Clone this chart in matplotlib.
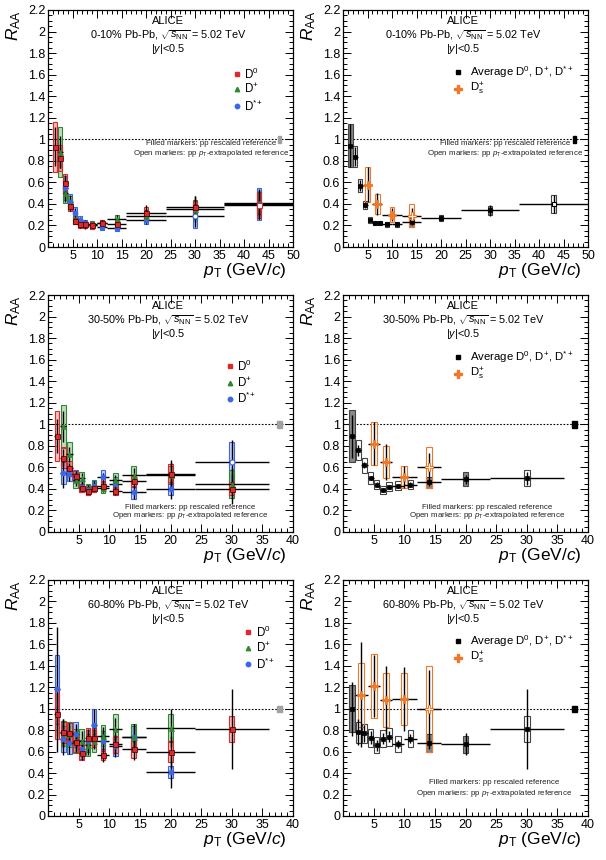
import matplotlib
matplotlib.use('Agg')
import matplotlib.pyplot as plt
from matplotlib.patches import Rectangle
from matplotlib.ticker import MultipleLocator, FuncFormatter
import numpy as np

plt.rcParams['font.family'] = ['Liberation Sans', 'DejaVu Sans']
plt.rcParams['mathtext.fontset'] = 'custom'
plt.rcParams['mathtext.rm'] = 'Liberation Sans'
plt.rcParams['mathtext.it'] = 'Liberation Sans:italic'
plt.rcParams['mathtext.bf'] = 'Liberation Sans:bold'

# ---------------- data : 0-10% ----------------
edges_d0_010 = [1, 2, 3, 4, 5, 6, 7, 8, 10, 12, 16, 24, 36, 50]
raa_d0_010 = [0.93, 0.83, 0.59, 0.38, 0.24, 0.21, 0.21, 0.20, 0.22, 0.21, 0.32, 0.37, 0.39]
stat_d0_010 = [0.18, 0.10, 0.08, 0.05, 0.03, 0.03, 0.04, 0.02, 0.03, 0.03, 0.07, 0.10, 0.13]
sys_d0_010 = [0.23, 0.12, 0.09, 0.05, 0.03, 0.03, 0.03, 0.03, 0.03, 0.03, 0.05, 0.06, 0.12]
open_d0_010 = [43]

edges_dp_010 = [2, 3, 4, 5, 6, 7, 8, 10, 12, 16, 24, 36, 50]
raa_dp_010 = [0.88, 0.50, 0.40, 0.25, 0.22, 0.21, 0.21, 0.22, 0.26, 0.29, 0.35, 0.41]
stat_dp_010 = [0.15, 0.08, 0.05, 0.03, 0.03, 0.03, 0.02, 0.03, 0.04, 0.06, 0.12, 0.12]
sys_dp_010 = [0.23, 0.09, 0.07, 0.04, 0.03, 0.03, 0.03, 0.03, 0.04, 0.05, 0.09, 0.10]
open_dp_010 = []

edges_ds_010 = [3, 4, 5, 6, 7, 8, 10, 12, 16, 24, 36, 50]
raa_dst_010 = [0.55, 0.42, 0.32, 0.25, 0.22, 0.20, 0.19, 0.18, 0.25, 0.29, 0.40]
stat_dst_010 = [0.10, 0.06, 0.04, 0.03, 0.03, 0.02, 0.02, 0.02, 0.04, 0.10, 0.14]
sys_dst_010 = [0.11, 0.07, 0.05, 0.04, 0.03, 0.03, 0.03, 0.03, 0.04, 0.11, 0.15]
open_dst_010 = [30]

edges_avg_010 = [1, 2, 3, 4, 5, 6, 7, 8, 10, 12, 16, 24, 36, 50]
raa_avg_010 = [0.94, 0.84, 0.57, 0.39, 0.25, 0.22, 0.22, 0.21, 0.21, 0.23, 0.27, 0.34, 0.40]
stat_avg_010 = [0.20, 0.09, 0.05, 0.03, 0.02, 0.02, 0.02, 0.015, 0.02, 0.03, 0.03, 0.05, 0.08]
sys_avg_010 = [0.20, 0.10, 0.06, 0.04, 0.03, 0.02, 0.02, 0.02, 0.02, 0.04, 0.03, 0.04, 0.08]
fill_avg_010 = [1, 0, 0, 0, 0, 0, 0, 0, 0, 1, 1, 1, 0]
open_avg_010 = [43]

edges_dsp_010 = [4, 6, 8, 12, 16]
raa_dsp_010 = [0.58, 0.40, 0.30, 0.29]
stat_dsp_010 = [0.16, 0.10, 0.06, 0.07]
sys_dsp_010 = [0.16, 0.09, 0.07, 0.105]
open_dsp_010 = [14]

# ---------------- data : 30-50% ----------------
edges_d0_3050 = [1, 2, 3, 4, 5, 6, 7, 8, 10, 12, 16, 24, 36]
raa_d0_3050 = [0.89, 0.69, 0.59, 0.52, 0.41, 0.38, 0.41, 0.43, 0.38, 0.47, 0.54, 0.40]
stat_d0_3050 = [0.16, 0.08, 0.05, 0.04, 0.03, 0.03, 0.03, 0.04, 0.04, 0.06, 0.13, 0.14]
sys_d0_3050 = [0.23, 0.10, 0.07, 0.05, 0.04, 0.04, 0.04, 0.04, 0.04, 0.05, 0.09, 0.06]
open_d0_3050 = []

edges_dp_3050 = [2, 3, 4, 5, 6, 7, 8, 10, 12, 16, 24, 36]
raa_dp_3050 = [0.98, 0.72, 0.48, 0.50, 0.40, 0.42, 0.41, 0.48, 0.53, 0.53, 0.45]
stat_dp_3050 = [0.14, 0.07, 0.05, 0.05, 0.04, 0.04, 0.04, 0.05, 0.06, 0.12, 0.14]
sys_dp_3050 = [0.20, 0.12, 0.07, 0.06, 0.05, 0.05, 0.05, 0.07, 0.08, 0.08, 0.13]
open_dp_3050 = []

edges_ds_3050 = [2, 3, 4, 5, 6, 7, 8, 10, 12, 16, 24, 36]
raa_dst_3050 = [0.55, 0.54, 0.52, 0.42, 0.39, 0.43, 0.51, 0.45, 0.37, 0.40, 0.65]
stat_dst_3050 = [0.14, 0.07, 0.05, 0.04, 0.04, 0.04, 0.04, 0.04, 0.06, 0.09, 0.20]
sys_dst_3050 = [0.10, 0.07, 0.06, 0.05, 0.05, 0.05, 0.07, 0.06, 0.06, 0.06, 0.19]
open_dst_3050 = [30]

edges_avg_3050 = [1, 2, 3, 4, 5, 6, 7, 8, 10, 12, 16, 24, 36]
raa_avg_3050 = [0.89, 0.76, 0.62, 0.50, 0.44, 0.39, 0.42, 0.43, 0.44, 0.46, 0.49, 0.50]
stat_avg_3050 = [0.20, 0.05, 0.03, 0.02, 0.02, 0.02, 0.02, 0.02, 0.02, 0.03, 0.04, 0.06]
sys_avg_3050 = [0.24, 0.09, 0.07, 0.055, 0.04, 0.035, 0.04, 0.04, 0.04, 0.055, 0.065, 0.075]
fill_avg_3050 = [1, 0, 0, 0, 0, 0, 0, 0, 0, 1, 1, 0]
open_avg_3050 = []

edges_dsp_3050 = [4, 6, 8, 12, 16]
raa_dsp_3050 = [0.82, 0.65, 0.51, 0.60]
stat_dsp_3050 = [0.20, 0.17, 0.10, 0.13]
sys_dsp_3050 = [0.20, 0.15, 0.10, 0.19]
open_dsp_3050 = [14]

# ---------------- data : 60-80% ----------------
edges_d0_6080 = [1, 2, 3, 4, 5, 6, 7, 8, 10, 12, 16, 24, 36]
raa_d0_6080 = [0.95, 0.78, 0.77, 0.69, 0.59, 0.73, 0.73, 0.57, 0.67, 0.62, 0.60, 0.81]
stat_d0_6080 = [0.20, 0.12, 0.10, 0.08, 0.07, 0.08, 0.08, 0.07, 0.09, 0.10, 0.15, 0.37]
sys_d0_6080 = [0.23, 0.10, 0.10, 0.09, 0.07, 0.09, 0.09, 0.05, 0.08, 0.08, 0.10, 0.12]
open_d0_6080 = []

edges_dp_6080 = [2, 3, 4, 5, 6, 7, 8, 10, 12, 16, 24]
raa_dp_6080 = [0.77, 0.76, 0.70, 0.70, 0.66, 0.70, 0.75, 0.81, 0.74, 0.82]
stat_dp_6080 = [0.13, 0.10, 0.10, 0.09, 0.09, 0.08, 0.08, 0.10, 0.12, 0.18]
sys_dp_6080 = [0.12, 0.12, 0.11, 0.11, 0.10, 0.10, 0.10, 0.14, 0.12, 0.13]
open_dp_6080 = []

edges_ds_6080 = [1, 2, 3, 4, 5, 6, 7, 8, 10, 12, 16, 24]
raa_dst_6080 = [1.18, 0.72, 0.68, 0.76, 0.62, 0.70, 0.85, 0.70, 0.65, 0.74, 0.41]
stat_dst_6080 = [0.58, 0.15, 0.10, 0.10, 0.08, 0.10, 0.15, 0.10, 0.10, 0.12, 0.15]
sys_dst_6080 = [0.32, 0.12, 0.10, 0.12, 0.09, 0.10, 0.15, 0.09, 0.09, 0.10, 0.06]
open_dst_6080 = []

edges_avg_6080 = [1, 2, 3, 4, 5, 6, 7, 8, 10, 12, 16, 24, 36]
raa_avg_6080 = [1.00, 0.78, 0.77, 0.73, 0.66, 0.72, 0.74, 0.67, 0.72, 0.68, 0.67, 0.81]
stat_avg_6080 = [0.25, 0.12, 0.08, 0.06, 0.05, 0.05, 0.05, 0.04, 0.04, 0.06, 0.10, 0.37]
sys_avg_6080 = [0.22, 0.10, 0.09, 0.085, 0.075, 0.08, 0.085, 0.075, 0.08, 0.08, 0.08, 0.12]
fill_avg_6080 = [1, 0, 0, 0, 0, 0, 0, 0, 0, 1, 1, 0]
open_avg_6080 = []

edges_dsp_6080 = [2, 4, 6, 8, 12, 16]
raa_dsp_6080 = [1.13, 1.21, 1.08, 1.09, 1.00]
stat_dsp_6080 = [0.49, 0.29, 0.32, 0.30, 0.36]
sys_dsp_6080 = [0.30, 0.30, 0.25, 0.24, 0.40]
open_dsp_6080 = [14]

centralities = ['0-10%', '30-50%', '60-80%']
x_max = [50, 40, 40]

C_D0 = '#e0282c'
C_DP = '#2f8a2f'
C_DST = '#3a66e8'
C_DS = '#f07828'

W, H = 606, 860
fig = plt.figure(figsize=(W / 100, H / 100), dpi=100)

rows_px = [(10, 247), (295, 532), (580, 816)]
cols_px = [(48, 293), (343, 588)]


def make_ax(r, c):
    (t, b), (l, rr) = rows_px[r], cols_px[c]
    return fig.add_axes([l / W, 1 - b / H, (rr - l) / W, (b - t) / H])


def style(ax, xmax):
    ax.set_xlim(0, xmax)
    ax.set_ylim(0, 2.2)
    ax.xaxis.set_major_locator(MultipleLocator(5))
    ax.xaxis.set_minor_locator(MultipleLocator(1))
    ax.yaxis.set_major_locator(MultipleLocator(0.2))
    ax.yaxis.set_minor_locator(MultipleLocator(0.05))
    ax.xaxis.set_major_formatter(FuncFormatter(lambda v, p: '' if abs(v) < 1e-6 else '%g' % v))
    ax.yaxis.set_major_formatter(FuncFormatter(lambda v, p: '%g' % round(v, 2)))
    ax.tick_params(which='both', direction='in', top=True, right=True, width=0.7, labelsize=9, pad=2)
    ax.tick_params(which='major', length=6)
    ax.tick_params(which='minor', length=3)
    for s in ax.spines.values():
        s.set_linewidth(0.9)
    ax.axhline(1.0, color='black', ls=(0, (1.5, 1.5)), lw=0.8, zorder=1)
    ax.text(-0.14, 1.0, r'$R_{\rm AA}$', transform=ax.transAxes, rotation=90,
            ha='center', va='top', fontsize=12.5)
    ax.text(0.975, -0.058, r'$p_{\rm T}$ (GeV/$c$)', transform=ax.transAxes,
            ha='right', va='top', fontsize=12.5)


def header(ax, cent):
    ax.text(0.49, 0.952, 'ALICE', transform=ax.transAxes, ha='center', va='center', fontsize=8)
    ax.text(0.49, 0.893, cent + r' Pb-Pb, $\sqrt{s_{\rm NN}}$ = 5.02 TeV', transform=ax.transAxes,
            ha='center', va='center', fontsize=7.8)
    ax.text(0.49, 0.836, r'|$y$|<0.5', transform=ax.transAxes, ha='center', va='center', fontsize=7.8)


def ref_text(ax, xc, y1, y2):
    ax.text(xc, y1, 'Filled markers: pp rescaled reference', transform=ax.transAxes,
            ha='center', va='center', fontsize=5.7, color='#222222')
    ax.text(xc, y2, r'Open markers: pp $p_{\rm T}$-extrapolated reference', transform=ax.transAxes,
            ha='center', va='center', fontsize=5.7, color='#222222')


def draw(ax, edges, raa, stat, sys, color, marker, ms, bw, fills, open_pts,
         boxcolor=None, fillcolor=None, alpha=0.35):
    e = np.asarray(edges, float)
    x = (e[:-1] + e[1:]) / 2
    hw = (e[1:] - e[:-1]) / 2
    y = np.asarray(raa, float)
    bc = boxcolor or color
    for i in range(len(x)):
        if fills[i]:
            fc = matplotlib.colors.to_rgba(fillcolor or color, alpha)
        else:
            fc = 'none'
        ax.add_patch(Rectangle((x[i] - bw / 2, y[i] - sys[i]), bw, 2 * sys[i], edgecolor=bc,
                               facecolor=fc, lw=0.8, zorder=2))
    ax.errorbar(x, y, xerr=hw, yerr=stat, fmt='none', ecolor='black', elinewidth=1.0,
                capsize=0, zorder=3)
    is_open = np.isin(x, open_pts)
    ax.plot(x[~is_open], y[~is_open], ls='none', marker=marker, ms=ms, mfc=color,
            mec='#300000' if color == C_D0 else color, mew=0.5, zorder=4)
    if is_open.any():
        ax.plot(x[is_open], y[is_open], ls='none', marker=marker, ms=ms, mfc='white',
                mec=color, mew=0.8, zorder=4)


def norm_box(ax, xpos, color):
    ax.add_patch(Rectangle((xpos - 0.35, 0.97), 0.7, 0.06, facecolor=color, edgecolor=color, zorder=3))


def leg_species(ax, x0, ys):
    items = [(C_D0, 's', r'D$^{0}$'), (C_DP, '^', r'D$^{+}$'), (C_DST, 'o', r'D$^{*+}$')]
    for (c, m, lab), yy in zip(items, ys):
        ax.plot([x0], [yy], transform=ax.transAxes, marker=m, ms=3.2, color=c, ls='none', clip_on=False)
        ax.text(x0 + 0.03, yy, lab, transform=ax.transAxes, ha='left', va='center', fontsize=8.3)


def leg_avg(ax, x0, ys):
    ax.plot([x0], [ys[0]], transform=ax.transAxes, marker='s', ms=3, color='black', ls='none')
    ax.text(x0 + 0.05, ys[0], r'Average D$^{0}$, D$^{+}$, D$^{*+}$', transform=ax.transAxes,
            ha='left', va='center', fontsize=8.2)
    ax.plot([x0], [ys[1]], transform=ax.transAxes, marker='P', ms=5.5, color=C_DS, ls='none')
    ax.text(x0 + 0.05, ys[1], r'D$_{\rm s}^{+}$', transform=ax.transAxes,
            ha='left', va='center', fontsize=8.2)


species = {
    0: [(edges_d0_010, raa_d0_010, stat_d0_010, sys_d0_010, open_d0_010),
        (edges_dp_010, raa_dp_010, stat_dp_010, sys_dp_010, open_dp_010),
        (edges_ds_010, raa_dst_010, stat_dst_010, sys_dst_010, open_dst_010)],
    1: [(edges_d0_3050, raa_d0_3050, stat_d0_3050, sys_d0_3050, open_d0_3050),
        (edges_dp_3050, raa_dp_3050, stat_dp_3050, sys_dp_3050, open_dp_3050),
        (edges_ds_3050, raa_dst_3050, stat_dst_3050, sys_dst_3050, open_dst_3050)],
    2: [(edges_d0_6080, raa_d0_6080, stat_d0_6080, sys_d0_6080, open_d0_6080),
        (edges_dp_6080, raa_dp_6080, stat_dp_6080, sys_dp_6080, open_dp_6080),
        (edges_ds_6080, raa_dst_6080, stat_dst_6080, sys_dst_6080, open_dst_6080)],
}
avgs = {
    0: (edges_avg_010, raa_avg_010, stat_avg_010, sys_avg_010, fill_avg_010, open_avg_010),
    1: (edges_avg_3050, raa_avg_3050, stat_avg_3050, sys_avg_3050, fill_avg_3050, open_avg_3050),
    2: (edges_avg_6080, raa_avg_6080, stat_avg_6080, sys_avg_6080, fill_avg_6080, open_avg_6080),
}
dsps = {
    0: (edges_dsp_010, raa_dsp_010, stat_dsp_010, sys_dsp_010, open_dsp_010),
    1: (edges_dsp_3050, raa_dsp_3050, stat_dsp_3050, sys_dsp_3050, open_dsp_3050),
    2: (edges_dsp_6080, raa_dsp_6080, stat_dsp_6080, sys_dsp_6080, open_dsp_6080),
}

leg_left = {0: (0.77, [0.73, 0.665, 0.595]), 1: (0.743, [0.70, 0.63, 0.563]), 2: (0.817, [0.78, 0.71, 0.643])}
ref_left = {0: (0.665, 0.435, 0.395), 1: (0.58, 0.105, 0.069)}
ref_right = {0: (0.66, 0.435, 0.395), 1: (0.59, 0.105, 0.069), 2: (0.615, 0.144, 0.097)}

for r in range(3):
    xmax = x_max[r]
    # left panel: D0, D+, D*+
    ax = make_ax(r, 0)
    style(ax, xmax)
    header(ax, centralities[r])
    order = [(2, C_DST, 'o'), (1, C_DP, '^'), (0, C_D0, 's')]
    for idx, col, mk in order:
        ed, ra, st, sy, op = species[r][idx]
        draw(ax, ed, ra, st, sy, col, mk, 3.6, 0.8 if xmax == 50 else 0.75,
             [1] * len(ra), op, alpha=0.3)
    norm_box(ax, xmax * 0.945, '#a0a0a0')
    x0, ys = leg_left[r]
    leg_species(ax, x0, ys)
    if r in ref_left:
        ref_text(ax, *ref_left[r])

    # right panel: average and Ds
    ax = make_ax(r, 1)
    style(ax, xmax)
    header(ax, centralities[r])
    ed, ra, st, sy, fl, op = avgs[r]
    draw(ax, ed, ra, st, sy, 'black', 's', 3.2, 0.9, fl, op, boxcolor='#444444',
         fillcolor='#888888', alpha=1.0)
    ed, ra, st, sy, op = dsps[r]
    draw(ax, ed, ra, st, sy, C_DS, 'P', 6, 1.0, [0] * len(ra), op, boxcolor=C_DS)
    norm_box(ax, xmax * 0.945, 'black')
    leg_avg(ax, 0.47, [0.74, 0.668])
    ref_text(ax, *ref_right[r])

fig.savefig('out.png', dpi=100)
